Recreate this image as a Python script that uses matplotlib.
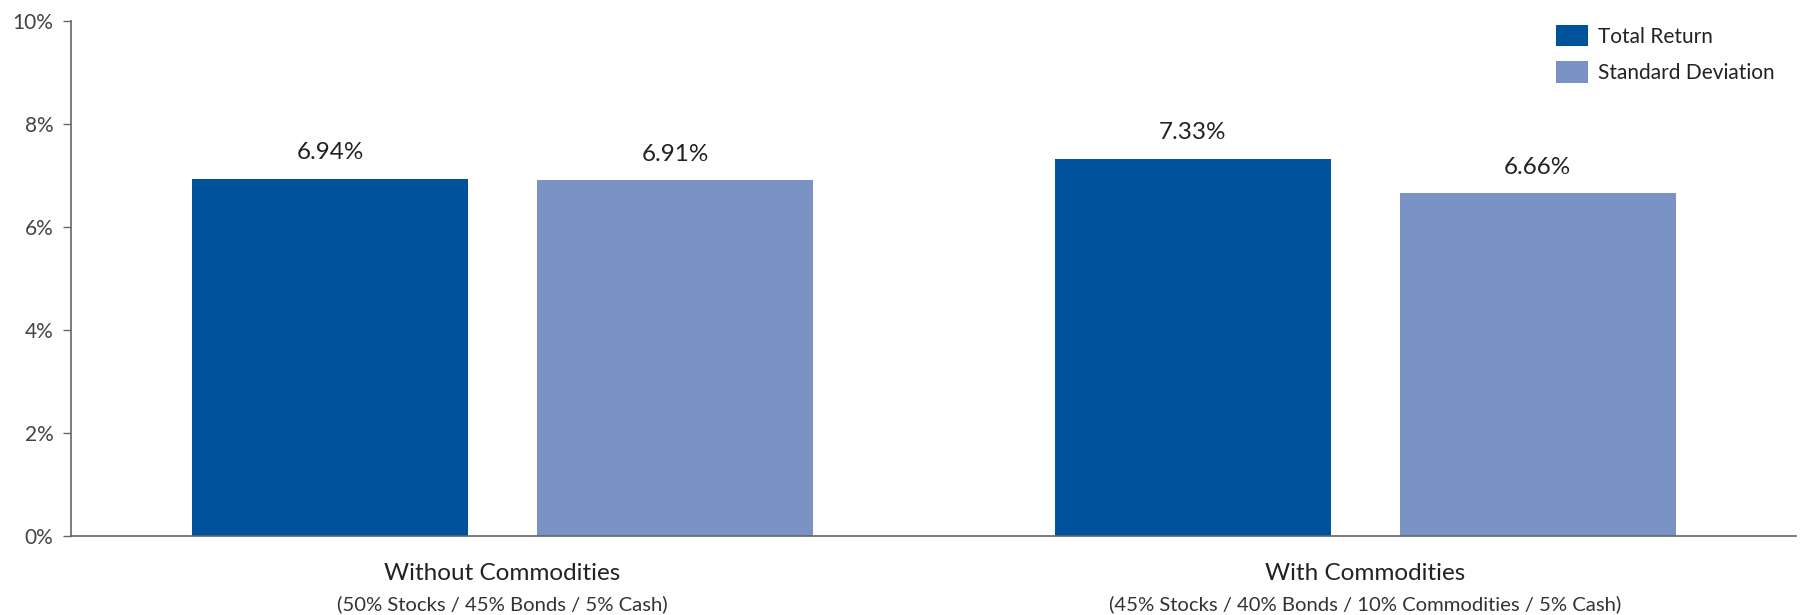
import matplotlib
matplotlib.use("Agg")
import matplotlib.pyplot as plt
import numpy as np

plt.rcParams['font.family'] = ['Lato', 'DejaVu Sans']

# data
groups = ["Without Commodities", "With Commodities"]
subtitles = ["(50% Stocks / 45% Bonds / 5% Cash)",
             "(45% Stocks / 40% Bonds / 10% Commodities / 5% Cash)"]
series = ["Total Return", "Standard Deviation"]
total_return = [6.94, 7.33]
std_dev = [6.91, 6.66]
colors = ["#00529B", "#7A92C4"]

fig = plt.figure(figsize=(18.08, 6.15), dpi=100)
ax = fig.add_axes([0.0395, 0.128, 0.954, 0.838])

x = np.arange(len(groups))
w = 0.32
off = 0.2
b1 = ax.bar(x - off, total_return, w, color=colors[0], label=series[0])
b2 = ax.bar(x + off, std_dev, w, color=colors[1], label=series[1])

# value labels above bars
for bars in (b1, b2):
    for b in bars:
        ax.annotate(f"{b.get_height():.2f}%",
                    (b.get_x() + b.get_width() / 2, b.get_height()),
                    xytext=(0, 11), textcoords="offset points",
                    ha="center", va="bottom", fontsize=17.5, color="#222222")

ax.set_xlim(-0.5, 1.5)
ax.set_ylim(0, 10)
ax.set_yticks(np.arange(0, 11, 2))
ax.set_yticklabels([f"{v}%" for v in range(0, 11, 2)])
ax.tick_params(axis="y", length=6, width=1, color="#666666", pad=7,
               labelsize=15, labelcolor="#444444")
ax.set_xticks([])

for s in ["top", "right"]:
    ax.spines[s].set_visible(False)
for s in ["left", "bottom"]:
    ax.spines[s].set_color("#666666")
    ax.spines[s].set_linewidth(1.2)

# two-line category labels
trans = ax.get_xaxis_transform()
for i in range(len(groups)):
    ax.text(x[i], -0.072, groups[i], transform=trans, ha="center", va="center",
            fontsize=17.5, color="#222222")
    ax.text(x[i], -0.132, subtitles[i], transform=trans, ha="center", va="center",
            fontsize=14.6, color="#333333")

leg = ax.legend(loc="upper left", bbox_to_anchor=(0.861, 0.992), frameon=False,
                fontsize=15, handlelength=1.5, handleheight=1.2,
                handletextpad=0.5, labelspacing=0.7, borderaxespad=0,
                borderpad=0)
for t in leg.get_texts():
    t.set_color("#222222")

fig.savefig("out.png", dpi=100)
